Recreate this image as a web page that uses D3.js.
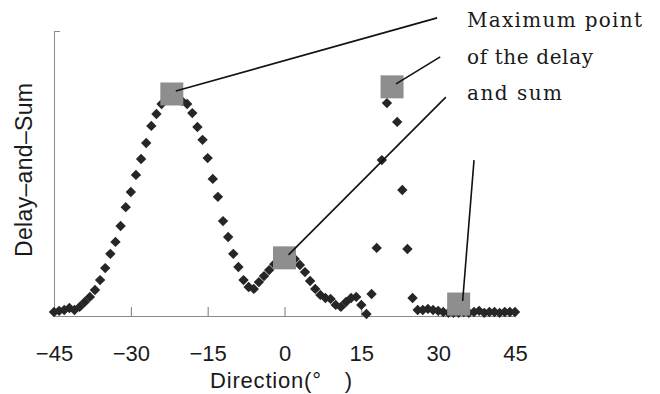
<!DOCTYPE html>
<html lang="en">
<head>
    <meta charset="UTF-8">
    <title>Delay-and-Sum vs Direction</title>
    <script src="https://d3js.org/d3.v7.min.js"></script>
    <style>
        body { margin: 0; background: #fff; }
        svg { display: block; }
        .tick text { font-family: "Liberation Sans", Arial, sans-serif; font-size: 22px; fill: #1a1a1a; }
    </style>
</head>
<body>
    <div id="chart"></div>
    <script>
        // scanned values, 1 degree steps from -45 to 45 (arbitrary units, 0-100)
        const directions = d3.range(-45, 46);
        const delaySum = [
            1.4, 1.8, 2.1, 2.8, 2.1, 3.2, 4.9, 6.7, 9.1, 12.6,      // -45 .. -36
            16.8, 21.8, 26.0, 31.6, 38.2, 43.5, 49.5, 55.1, 60.7, 66.7, // -35 .. -26
            70.9, 74.4, 76.5, 77.9, 76.8, 75.4, 74.4, 71.2, 66.3, 61.8, // -25 .. -16
            55.4, 48.1, 41.8, 33.3, 27.7, 21.8, 17.2, 12.6, 10.2, 9.5,  // -15 .. -6
            11.9, 14.0, 16.1, 18.2, 19.6, 20.4, 20.4, 20.0, 17.9, 15.4, // -5 .. 4
            12.3, 9.5, 7.4, 6.3, 6.0, 3.9, 3.2, 4.9, 6.3, 6.7,          // 5 .. 14
            3.9, 0.7, 7.7, 23.9, 54.7, 74.7, 80.4, 68.1, 44.2, 23.5,    // 15 .. 24
            6.3, 2.1, 2.1, 2.5, 2.1, 1.8, 1.4, 1.1, 1.1, 1.1,           // 25 .. 34
            1.4, 1.1, 1.4, 1.8, 1.1, 1.4, 1.4, 1.1, 1.4, 1.4, 1.4       // 35 .. 45
        ];

        // marked "maximum points" [direction, value]
        const maxDirections = [-22, 0, 21, 34];
        const maxValues = [77.9, 20.4, 80.4, 4.2];

        // where each callout line ends, in data units (same order as the markers)
        const calloutEndDir = [29.8, 31.5, 30.4, 37.0];
        const calloutEndVal = [104.6, 76.8, 90.9, 54.7];

        const xTicks = [-45, -30, -15, 0, 15, 30, 45];
        const noteLines = ["Maximum point", "of the delay", "and sum"];
        const noteWidths = [175, 126, 95];

        const width = 660, height = 394;

        const svg = d3.select("#chart").append("svg")
            .attr("width", width)
            .attr("height", height);

        const x = d3.scaleLinear().domain([-45, 45]).range([54, 515]);
        const y = d3.scaleLinear().domain([0, 100]).range([316, 31]);

        // axes
        const xAxis = svg.append("g")
            .attr("transform", "translate(0,316)")
            .call(d3.axisBottom(x)
                .tickValues(xTicks)
                .tickSizeInner(-9)
                .tickSizeOuter(0)
                .tickPadding(29)
                .tickFormat(d => d < 0 ? "\u2212" + Math.abs(d) : d));
        xAxis.select(".domain").attr("stroke", "#8a8a8a");
        xAxis.selectAll(".tick line")
            .attr("stroke", "#777")
            .filter(d => Math.abs(d) === 45).remove();

        const yAxis = svg.append("g")
            .attr("transform", "translate(54,0)")
            .call(d3.axisLeft(y).tickValues([100]).tickSizeInner(-6).tickSizeOuter(0).tickFormat(""));
        yAxis.select(".domain").attr("stroke", "#8a8a8a");
        yAxis.selectAll(".tick line").attr("stroke", "#8a8a8a");

        // data points as diamonds
        const diamond = d3.symbol(d3.symbolSquare, 54);
        svg.append("g")
            .selectAll("path")
            .data(directions.map((d, i) => [d, delaySum[i]]))
            .join("path")
            .attr("d", diamond)
            .attr("fill", "#262626")
            .attr("transform", d => `translate(${x(d[0])},${y(d[1])}) rotate(45)`);

        // maximum point markers
        const maxPts = maxDirections.map((d, i) => [d, maxValues[i]]);
        svg.append("g")
            .selectAll("path")
            .data(maxPts)
            .join("path")
            .attr("d", d3.symbol(d3.symbolSquare, 529))
            .attr("fill", "#8e8e8e")
            .attr("transform", d => `translate(${x(d[0])},${y(d[1])})`);

        // callout lines
        svg.append("g")
            .selectAll("line")
            .data(maxPts)
            .join("line")
            .attr("x1", d => x(d[0]) + 4)
            .attr("y1", d => y(d[1]) - 3)
            .attr("x2", (d, i) => x(calloutEndDir[i]))
            .attr("y2", (d, i) => y(calloutEndVal[i]))
            .attr("stroke", "#111")
            .attr("stroke-width", 1.6);

        // note text
        svg.append("g")
            .selectAll("text")
            .data(noteLines)
            .join("text")
            .attr("x", 467)
            .attr("y", (d, i) => 27 + i * 36.5)
            .attr("textLength", (d, i) => noteWidths[i])
            .attr("lengthAdjust", "spacing")
            .style("font-family", "'DejaVu Serif', 'Liberation Serif', serif")
            .style("font-size", "20px")
            .attr("fill", "#1a1a1a")
            .text(d => d);

        // axis titles
        svg.append("text")
            .attr("x", 210)
            .attr("y", 388)
            .attr("textLength", 142)
            .attr("lengthAdjust", "spacing")
            .style("font-family", "'Liberation Sans', Arial, sans-serif")
            .style("font-size", "22px")
            .attr("fill", "#1a1a1a")
            .text("Direction(\u00b0\u3000)");

        svg.append("text")
            .attr("transform", "translate(32,170) rotate(-90)")
            .attr("text-anchor", "middle")
            .attr("textLength", 174)
            .attr("lengthAdjust", "spacing")
            .style("font-family", "'Liberation Sans', Arial, sans-serif")
            .style("font-size", "23px")
            .attr("fill", "#1a1a1a")
            .text("Delay\u2013and\u2013Sum");
    </script>
</body>
</html>
